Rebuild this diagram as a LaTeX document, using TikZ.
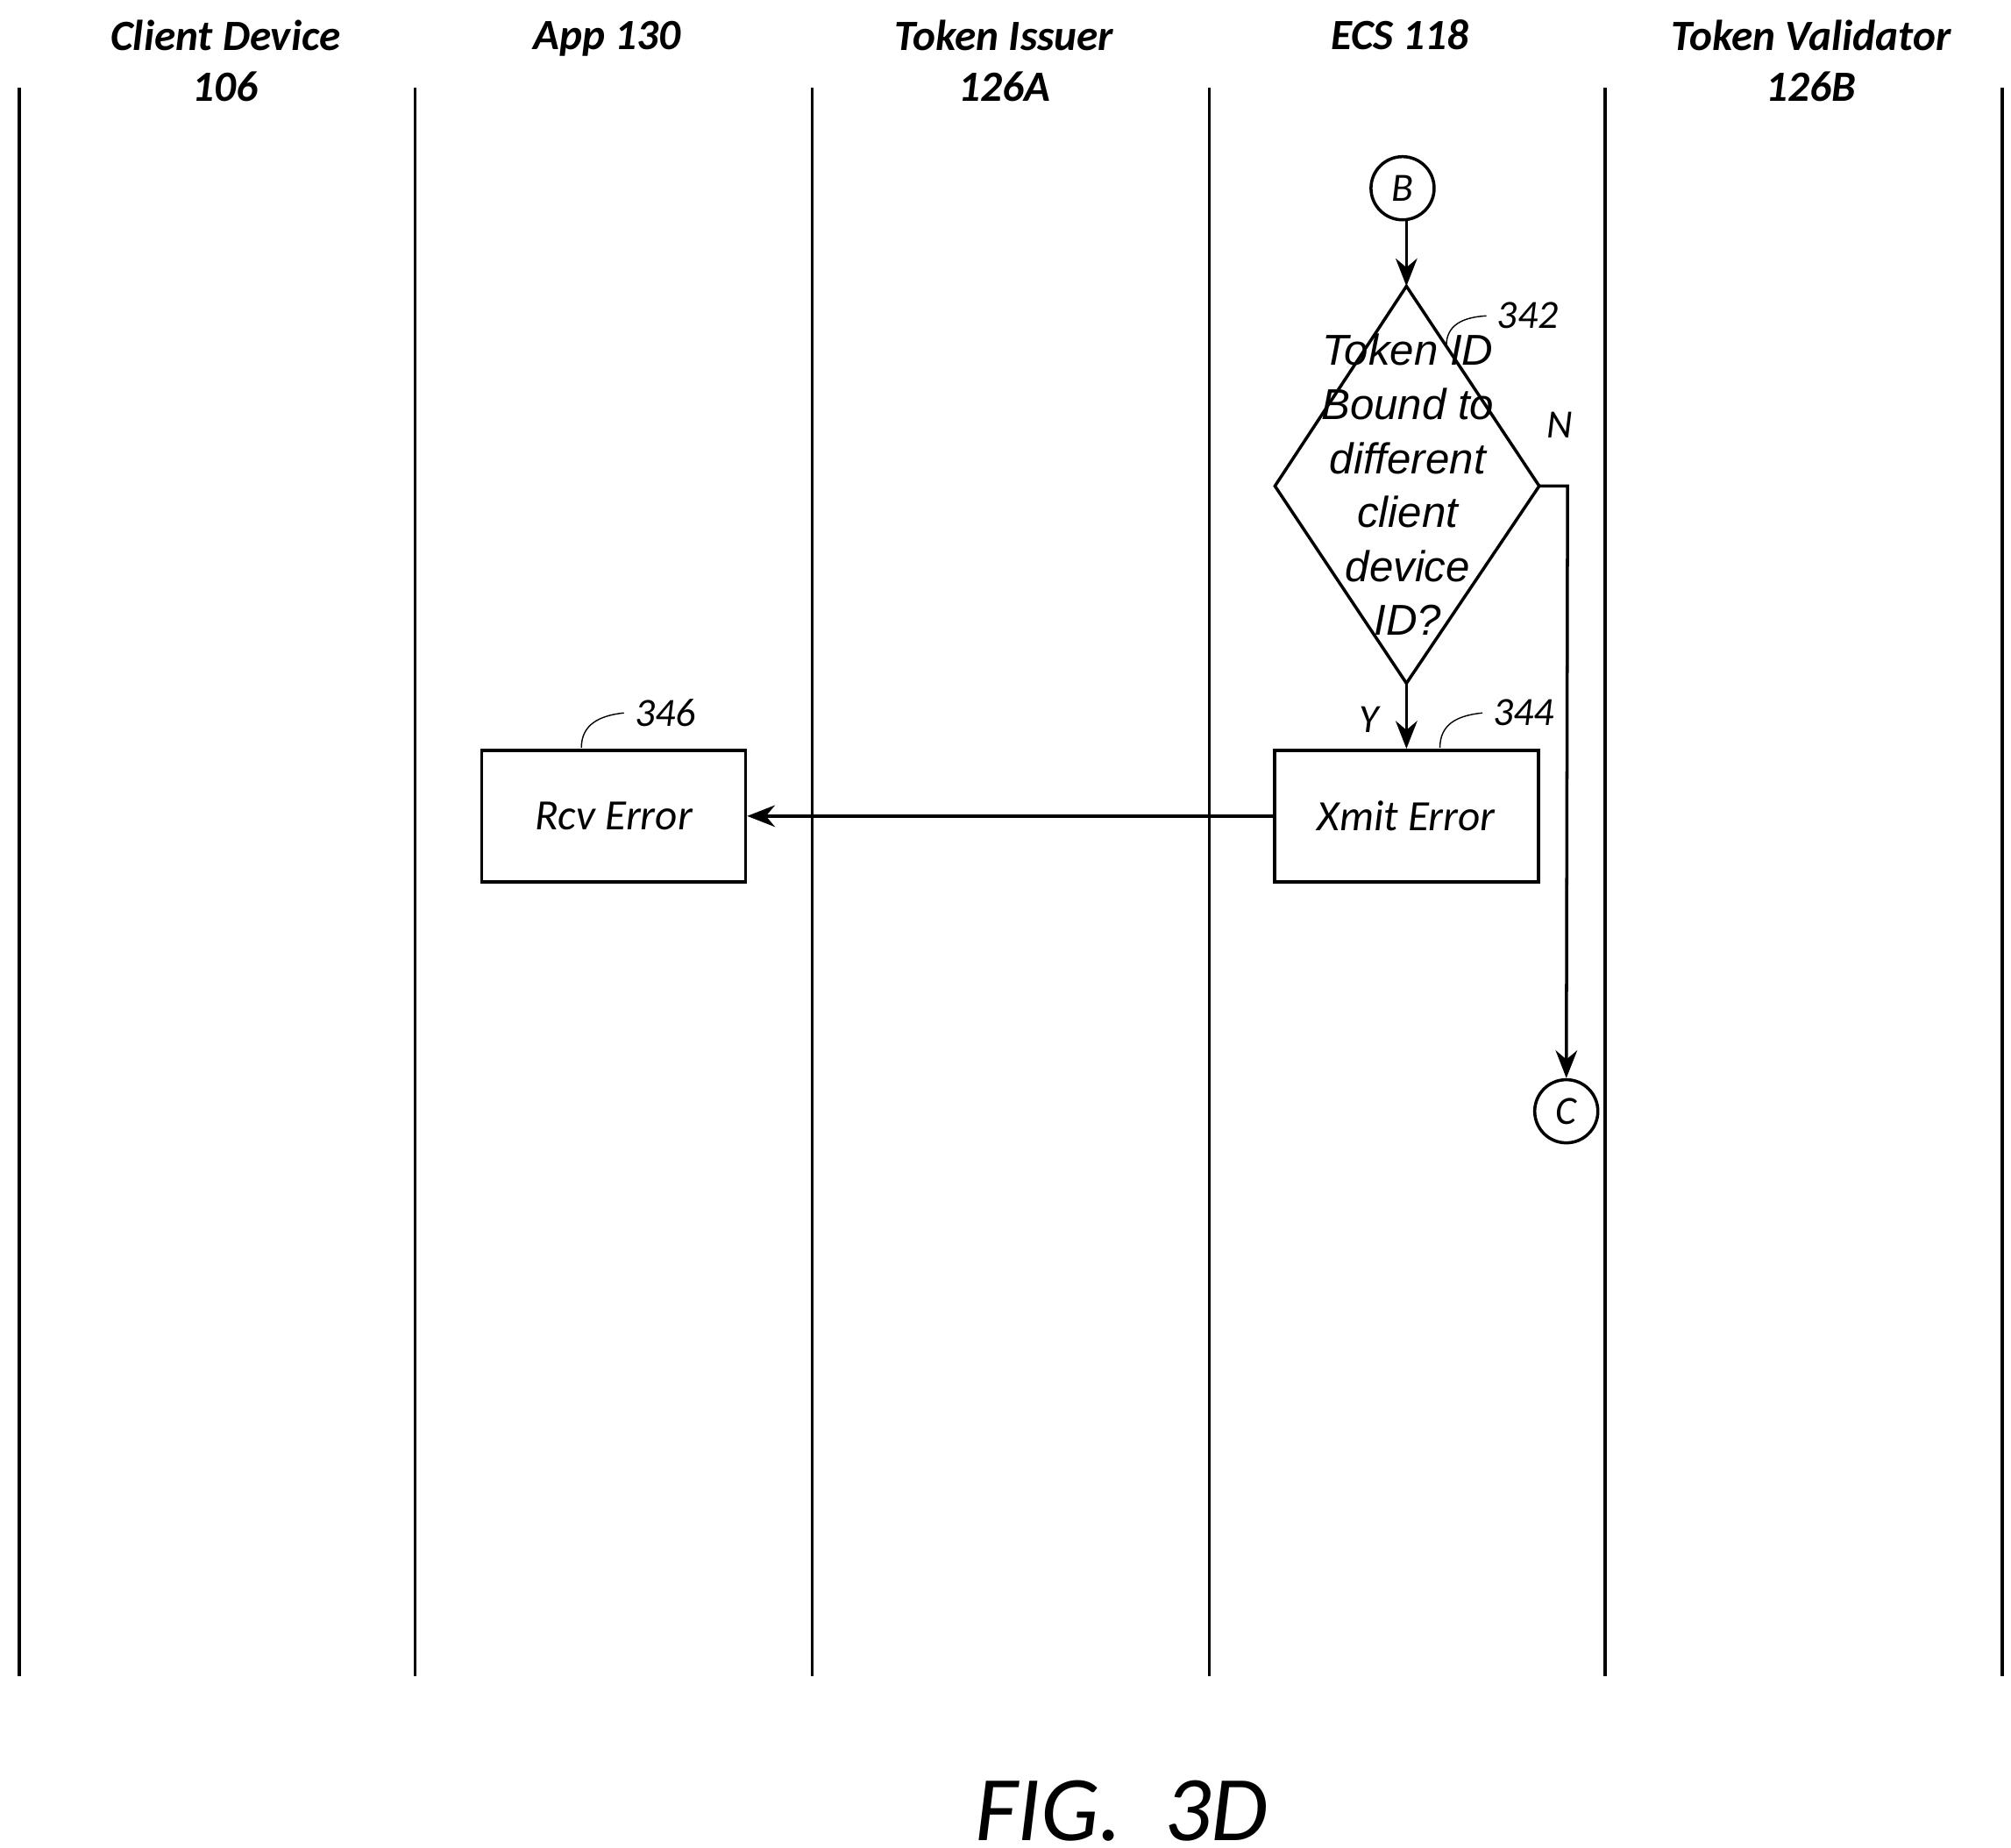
\documentclass[tikz,border=0pt]{standalone}
\usepackage{fontspec}
\setmainfont{Carlito}
\newfontfamily\arialish{Liberation Sans}
\usetikzlibrary{arrows.meta}
\begin{document}
\begin{tikzpicture}[x=0.0147cm,y=-0.0147cm,>={Stealth[length=9pt,width=7pt]},
	lane/.style={line width=1pt},
	head/.style={align=center,font=\fontsize{14}{16.5}\selectfont\bfseries\itshape},
	procbox/.style={draw,line width=1pt,minimum width=3.01cm,minimum height=1.5cm,font=\fontsize{14}{17}\selectfont\itshape},
	conn/.style={draw,circle,line width=1pt,minimum size=0.72cm,inner sep=0pt,font=\fontsize{13}{15}\selectfont\itshape},
	ref/.style={font=\fontsize{13}{15}\selectfont\itshape},
	flow/.style={->,line width=1pt}]
	\useasboundingbox (0,0) rectangle (1560,1433);
	
	% swim lanes
	\foreach \x in {15,322,630,938,1245,1553}
		\draw[lane] (\x,68) -- (\x,1300);
	
	\node[head] at (175,47) {Client Device\\106};
	\node[head] at (471,47) {App 130\\\phantom{0}};
	\node[head] at (779,47) {Token Issuer\\126A};
	\node[head] at (1086,47) {ECS 118\\\phantom{0}};
	\node[head] at (1405,47) {Token Validator\\126B};
	
	% decision 342
	\coordinate (dtop) at (1091,222);
	\coordinate (dright) at (1194,377);
	\coordinate (dbot) at (1091,530);
	\coordinate (dleft) at (989,377);
	\draw[line width=1pt] (dtop) -- (dright) -- (dbot) -- (dleft) -- cycle;
	\node[align=center,font=\arialish\fontsize{14}{17.5}\selectfont\itshape] (q342) at (1092,376)
		{Token ID\\Bound to\\different\\client\\device\\ID?};
	
	\node[conn] (B) at (1088,146) {B};
	\node[conn] (C) at (1215,862) {C};
	\node[procbox] (xmit) at (1091,633) {Xmit Error};
	\node[procbox] (rcv) at (476,633) {Rcv Error};
	
	\draw[flow] (B.south -| dtop) -- (dtop);
	\draw[flow] (dbot) -- (xmit);
	\draw[flow] (dright) -- (1216,377) -- (C);
	\draw[flow] (xmit) -- (rcv);
	
	\node[ref] at (1210,330) {N};
	\node[ref] at (1062,558) {Y};
	
	% reference numerals
	\node[ref,anchor=west] (n342) at (1153,245) {342};
	\draw (1122,268) .. controls (1122,252) and (1135,246) .. (n342.west);
	\node[ref,anchor=west] (n344) at (1150,553) {344};
	\draw (1117,580) .. controls (1117,562) and (1130,555) .. (n344.west);
	\node[ref,anchor=west] (n346) at (484,553) {346};
	\draw (451,580) .. controls (451,562) and (465,555) .. (n346.west);
	
	\node[font=\fontsize{30}{34}\selectfont\itshape] at (870,1405) {FIG.~~3D};
\end{tikzpicture}
\end{document}
